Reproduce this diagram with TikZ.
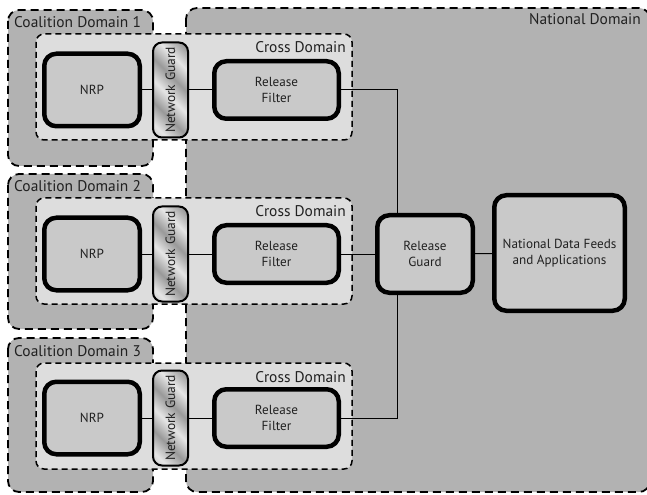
\documentclass[tikz,border=0pt]{standalone}
\usepackage{fontspec}
\setmainfont{PT Sans}
\definecolor{domaingray}{gray}{0.70}
\definecolor{crossgray}{gray}{0.865}
\definecolor{boxgray}{gray}{0.79}
\definecolor{inkgray}{gray}{0.13}
\definecolor{steeldark}{gray}{0.60}
\definecolor{steelmid}{gray}{0.72}
\definecolor{steellight}{gray}{0.90}
% broad diagonal metallic bands for the network guards
\pgfdeclarehorizontalshading{steel}{100bp}{%
  color(0bp)=(steelmid); color(12bp)=(steelmid); color(22bp)=(steellight);
  color(34bp)=(steeldark); color(46bp)=(steellight); color(58bp)=(steeldark);
  color(70bp)=(steellight); color(82bp)=(steeldark); color(90bp)=(steelmid);
  color(100bp)=(steelmid)}
\pgfdeclarelayer{regions}
\pgfdeclarelayer{wires}
\pgfsetlayers{regions,wires,main}
\begin{document}
\begin{tikzpicture}[x=1bp,y=-1bp,
  zone/.style={draw=black, line width=1.8bp, dash pattern=on 8bp off 5bp,
    fill=domaingray, rounded corners=11bp},
  crosszone/.style={draw=black, line width=1.5bp, dash pattern=on 6bp off 4bp,
    fill=crossgray, rounded corners=8bp},
  biglabel/.style={font=\fontsize{15.5}{18}\selectfont, text=inkgray, inner sep=0pt},
  unit/.style={draw=black, line width=4.5bp, fill=boxgray, rounded corners=12bp,
    align=center, inner sep=0pt, text=inkgray,
    font=\fontsize{13.2}{16}\selectfont},
  guardbox/.style={draw=black, line width=2bp, rounded corners=9bp,
    shading=steel, shading angle=45, inner sep=0pt, text=inkgray,
    minimum width=95bp, minimum height=35bp, rotate=90,
    font=\fontsize{13.5}{15}\selectfont},
  link/.style={draw=black, line width=1bp}]
\useasboundingbox (0,0) rectangle (647,495);

\begin{pgfonlayer}{regions}
% outer domains
\draw[zone] (8,10) rectangle (153,166);
\draw[zone] (8,174) rectangle (153,329);
\draw[zone] (8,338) rectangle (153,492);
\draw[zone] (186,8) rectangle (650,492);
% cross-domain bands
\foreach \y in {0,164,329}{
  \draw[crosszone] (36,34+\y) rectangle (352,140+\y);
}
\end{pgfonlayer}

\node[biglabel, anchor=base west] (cd1) at (14,28) {Coalition Domain 1};
\node[biglabel, anchor=base west] (cd2) at (14,192) {Coalition Domain 2};
\node[biglabel, anchor=base west] (cd3) at (14,356) {Coalition Domain 3};
\node[biglabel, anchor=base east] (natl) at (641,25) {National Domain};
\foreach \r/\y in {1/0,2/164,3/329}{
  \node[biglabel, anchor=base east] (xd\r) at (346,53+\y) {Cross Domain};
}

% release guard and national feeds
\node[unit, minimum width=95.5bp, minimum height=77.5bp] (rg) at (425,254) {Release\\Guard};
\node[unit, minimum width=130.5bp, minimum height=115.5bp] (feeds) at (559.5,253) {National Data Feeds\\and Applications};
\coordinate (bus) at (397,254);

% one chain per coalition domain
\foreach \r/\y in {1/90,2/254,3/418}{
  \node[unit, minimum width=95.5bp, minimum height=72.5bp] (nrp\r) at (92,\y) {NRP};
  \node[guardbox] (ng\r) at (170.5,\y) {Network Guard};
  \node[unit, minimum width=124.5bp, minimum height=57.5bp] (rf\r) at (276.5,\y) {Release\\Filter};
}

\begin{pgfonlayer}{wires}
\foreach \r in {1,2,3}{
  \draw[link] (nrp\r) -- (ng\r);
  \draw[link] (ng\r) -- (rf\r);
}
\draw[link] (rf1.east) -| (bus);
\draw[link] (rf3.east) -| (bus);
\draw[link] (rf2) -- (rg);
\draw[link] (rg) -- (feeds);
\end{pgfonlayer}
\end{tikzpicture}
\end{document}
